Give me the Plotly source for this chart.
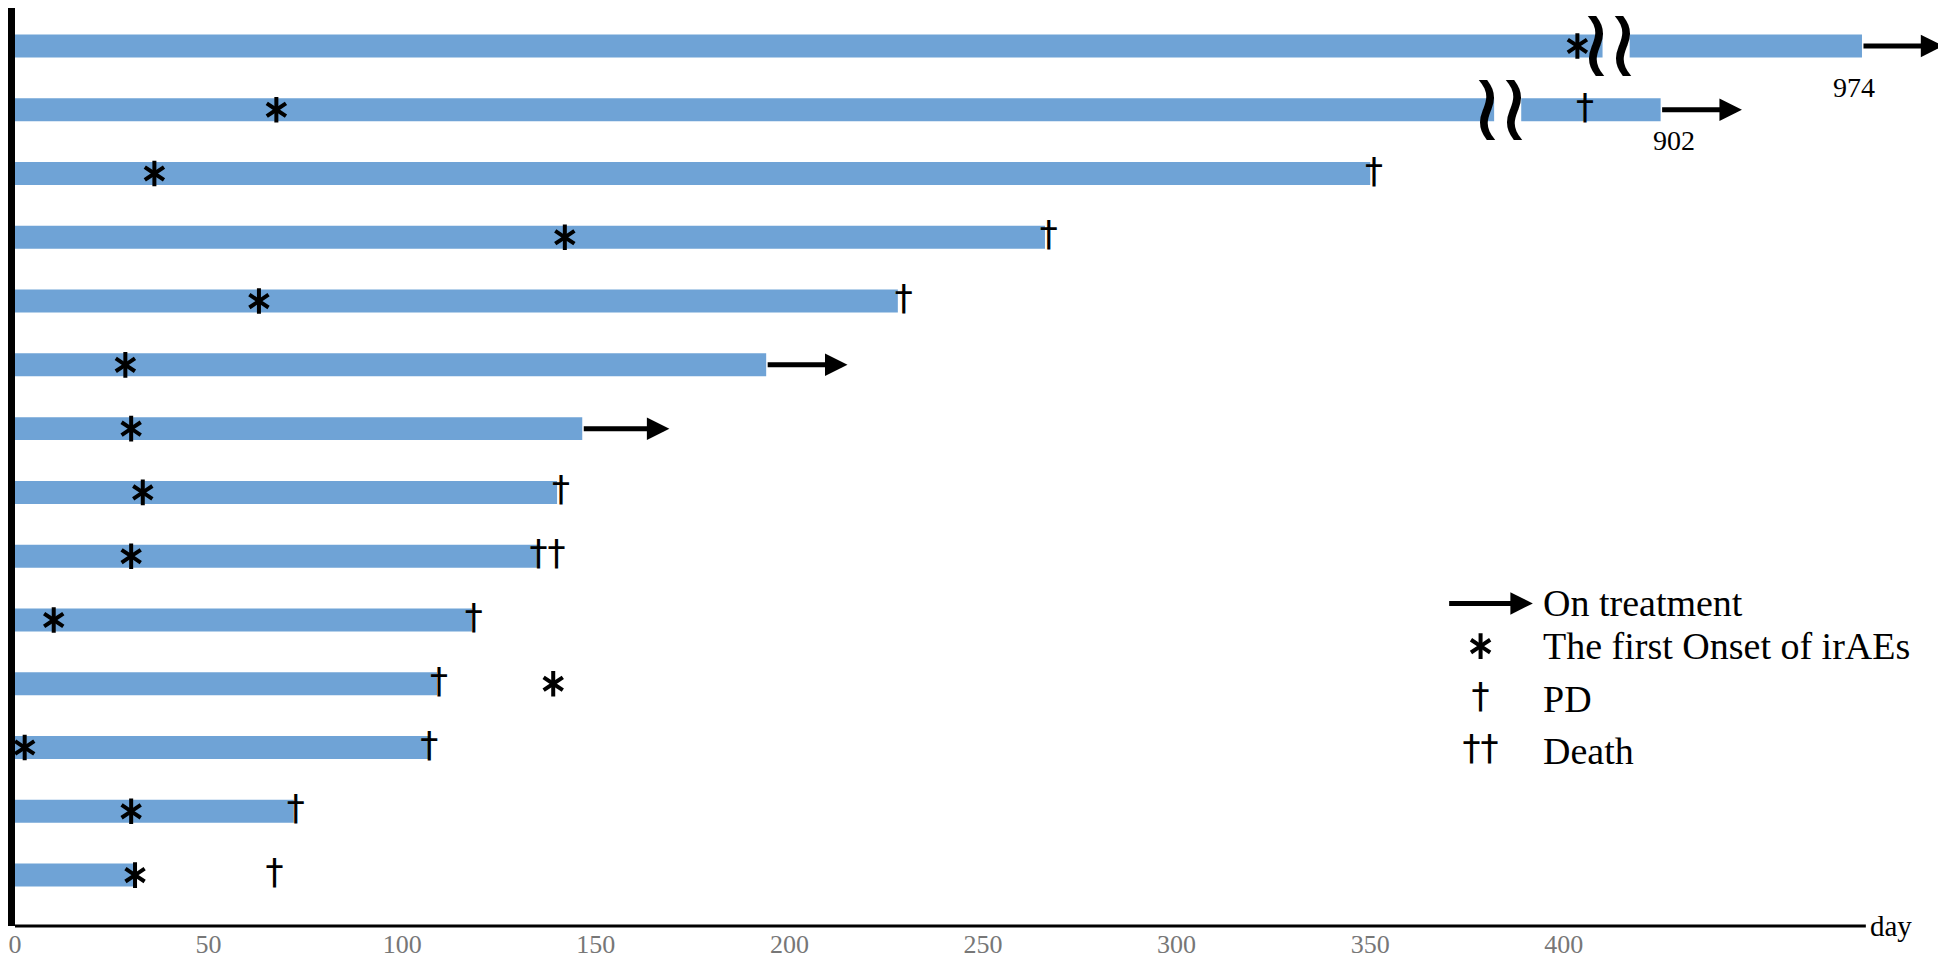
import plotly.graph_objects as go

# one row per patient, top to bottom; x = day as drawn (axis is broken above ~400)
patients = list(range(1, 15))
bar_end = [477, 425, 350, 266, 228, 194, 146.5, 140, 135, 118, 109, 107, 72, 31]
irae_day = [403.5, 67.5, 36, 142, 63, 28.5, 30, 33, 30, 10, 139, 2.5, 30, 31]

pd_rows = [2, 3, 4, 5, 8, 10, 11, 12, 13, 14]
pd_day = [405.5, 351, 267, 229.5, 141, 118.5, 109.5, 107, 72.5, 67]

death_rows = [9]
death_day = [137.5]

ongoing_rows = [1, 2, 6, 7]
ongoing_from = [477, 425, 194, 146.5]
ongoing_to = [498, 446, 215, 169]

# broken bars (long follow-up)
break_rows = [1, 2]
break_from = [410, 382]
break_to = [417, 389]

total_rows = [1, 2]
total_days = ["974", "902"]
total_x = [475, 428.5]
total_drop = [42, 31]  # px below the bar

tick_vals = [0, 50, 100, 150, 200, 250, 300, 350, 400]
axis_end = 478

legend_labels = ["On treatment", "The first Onset of irAEs", "PD", "Death"]
legend_y = [9.74, 10.41, 11.24, 12.06]
legend_sym_x = 378.5
legend_text_x = 394

BLUE = "#6fa3d6"
SERIF = "Liberation Serif"

fig = go.Figure()

seg1_end = [break_from[break_rows.index(p)] if p in break_rows else e
            for p, e in zip(patients, bar_end)]
fig.add_trace(go.Bar(
    y=patients, x=seg1_end, base=0, orientation="h", width=0.36,
    marker=dict(color=BLUE, line_width=0), hoverinfo="skip",
))
fig.add_trace(go.Bar(
    y=break_rows, x=[bar_end[r - 1] - t for r, t in zip(break_rows, break_to)],
    base=break_to, orientation="h", width=0.36,
    marker=dict(color=BLUE, line_width=0), hoverinfo="skip",
))

# asterisk = two "y" markers overlaid (6 arms)
for sym in ["y-up-open", "y-down-open"]:
    fig.add_trace(go.Scatter(
        x=irae_day + [legend_sym_x], y=patients + [legend_y[1]], mode="markers",
        marker=dict(symbol=sym, size=16, color="black",
                    line=dict(color="black", width=4)),
        hoverinfo="skip",
    ))

# PD / death daggers
fig.add_trace(go.Scatter(
    x=pd_day + [legend_sym_x], y=pd_rows + [legend_y[2]], mode="text",
    text=["†"] * (len(pd_day) + 1), textposition="middle center",
    textfont=dict(family="DejaVu Sans", size=36, color="black"),
    hoverinfo="skip",
))
fig.add_trace(go.Scatter(
    x=death_day + [legend_sym_x], y=death_rows + [legend_y[3]], mode="text",
    text=["††"] * (len(death_day) + 1), textposition="middle center",
    textfont=dict(family="DejaVu Sans", size=36, color="black"),
    hoverinfo="skip",
))

# still on treatment arrows
for r, x0, x1 in zip(ongoing_rows, ongoing_from, ongoing_to):
    fig.add_annotation(
        x=x1, y=r, ax=x0, ay=r, xref="x", yref="y", axref="x", ayref="y",
        showarrow=True, arrowhead=2, arrowsize=0.9, arrowwidth=5,
        arrowcolor="black", text="",
    )
fig.add_annotation(
    x=392, y=legend_y[0], ax=370, ay=legend_y[0], xref="x", yref="y",
    axref="x", ayref="y", showarrow=True, arrowhead=2, arrowsize=0.9,
    arrowwidth=5, arrowcolor="black", text="",
)

# axis-break marks
for r, a, b in zip(break_rows, break_from, break_to):
    for xv in (a, b):
        fig.add_annotation(
            x=xv, y=r, xref="x", yref="y", text="≀", showarrow=False,
            xshift=-7, yshift=3,
            font=dict(family="DejaVu Sans", size=96, color="black"),
        )

for r, lab, xv, dp in zip(total_rows, total_days, total_x, total_drop):
    fig.add_annotation(
        x=xv, y=r, xref="x", yref="y", text=lab, showarrow=False, yshift=-dp,
        font=dict(family=SERIF, size=28, color="black"),
    )

for lab, yv in zip(legend_labels, legend_y):
    fig.add_annotation(
        x=legend_text_x, y=yv, xref="x", yref="y", text=lab, showarrow=False,
        xanchor="left", font=dict(family=SERIF, size=38, color="black"),
    )

# x axis line stops short of the right edge, "day" at its end
fig.add_shape(type="line", x0=0, x1=axis_end, y0=0, y1=0, xref="x", yref="paper",
              line=dict(color="black", width=3))
fig.add_annotation(
    x=axis_end, y=0, xref="x", yref="paper", text="day", showarrow=False,
    xanchor="left", yanchor="middle", xshift=2,
    font=dict(family=SERIF, size=29, color="black"),
)

fig.update_layout(
    width=1938, height=951,
    margin=dict(l=4, r=0, t=0, b=32),
    plot_bgcolor="white", paper_bgcolor="white",
    barmode="overlay", showlegend=False,
    xaxis=dict(
        range=[0, 498.7], tickvals=tick_vals, showgrid=False, zeroline=False,
        showline=False, ticks="", ticklabeloverflow="allow",
        tickfont=dict(family=SERIF, size=26, color="#777777"),
    ),
    yaxis=dict(
        range=[14.798, 0.405], showgrid=False, zeroline=False,
        showticklabels=False, showline=True, linecolor="black", linewidth=7,
    ),
)

fig.write_html("out.html")
